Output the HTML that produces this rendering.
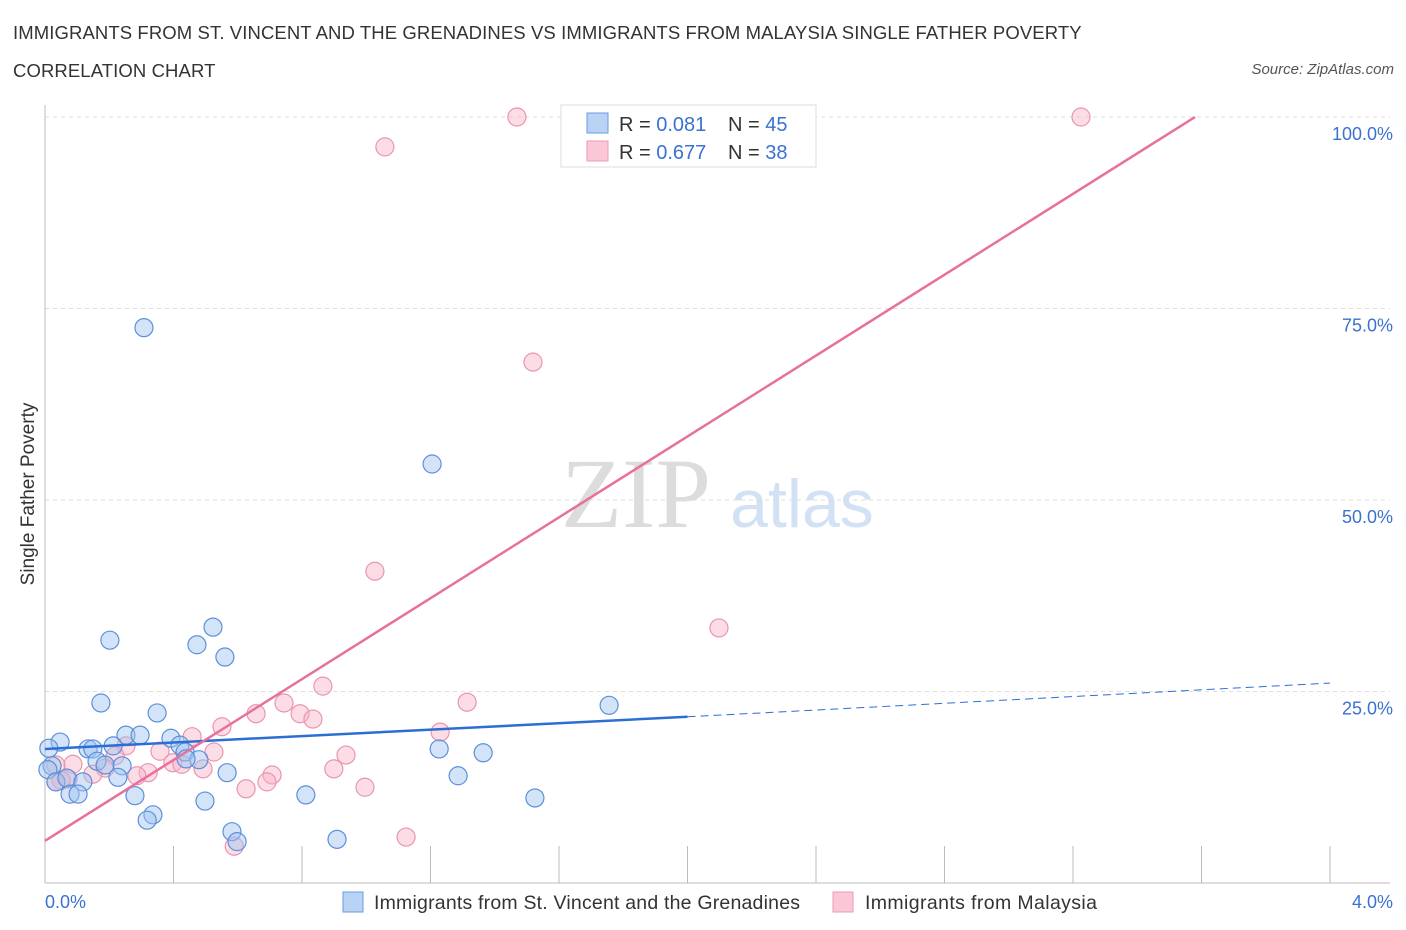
<!DOCTYPE html>
<html><head><meta charset="utf-8"><style>
body{margin:0;background:#fff;font-family:"Liberation Sans",sans-serif;}
#wrap{position:relative;width:1406px;height:930px;overflow:hidden;}
.t{position:absolute;white-space:nowrap;}
</style></head><body>
<div id="wrap">
<div class="t" style="left:13px;top:14px;font-size:18.5px;color:#333;line-height:38px;letter-spacing:0.1px;">IMMIGRANTS FROM ST. VINCENT AND THE GRENADINES VS IMMIGRANTS FROM MALAYSIA SINGLE FATHER POVERTY<br>CORRELATION CHART</div>
<div class="t" style="right:12px;top:61px;font-size:15px;color:#555;font-style:italic;">Source: ZipAtlas.com</div>
<svg id="svg" width="1406" height="930" style="position:absolute;left:0;top:0"></svg>
</div>
<script>
const blueX=[.308,1.205,.202,.523,.473,.560,.174,1.756,.349,.047,.252,.296,.392,.420,.134,.149,.212,.436,.012,1.227,1.364,.022,.162,.187,.240,.479,.439,.009,.227,.567,1.286,.034,.068,.118,.078,.103,.280,.812,1.525,.498,.336,.318,.582,.598,.909];
const blueY=[72.5,54.7,31.7,33.4,31.1,29.5,23.5,23.2,22.2,18.4,19.3,19.3,18.9,18.0,17.5,17.5,17.9,17.1,17.6,17.5,17.0,15.3,15.9,15.4,15.3,16.1,16.2,14.8,13.8,14.4,14.0,13.2,13.7,13.2,11.6,11.6,11.4,11.5,11.1,10.7,8.9,8.2,6.7,5.4,5.7];
const pinkX=[1.469,3.225,1.058,1.519,1.027,2.098,.865,1.314,.744,.657,.794,.834,.551,1.230,.458,.252,.358,.526,.218,.937,.398,.426,.087,.034,.899,.187,.492,.321,.707,.286,.149,.072,.050,.691,.034,.996,.626,1.124,.589];
const pinkY=[100,100,96.1,68.0,40.7,33.3,25.7,23.6,23.5,22.1,22.1,21.4,20.4,19.7,19.1,17.9,17.2,17.1,16.6,16.7,15.7,15.5,15.5,15.4,14.9,15.0,14.9,14.4,14.1,14.0,14.2,13.6,13.4,13.2,13.2,12.5,12.3,6.0,4.8];
const yTicks=[25,50,75,100];
const yTickLabels=["25.0%","50.0%","75.0%","100.0%"];
const xTickLabels=["0.0%","4.0%"];
const blueTrend=[17.5,21.7,26.1];
const pinkTrend=[5.5,100];
const pinkEndX=3.58;

const X0=45,X1=1330,Y0=883,Y1=117;
const sx=v=>X0+(X1-X0)*v/4;
const sy=v=>Y0-(Y0-Y1)*v/100;
const svg=document.getElementById('svg');
const NS='http://www.w3.org/2000/svg';
function mk(tag,attrs,parent){const e=document.createElementNS(NS,tag);for(const k in attrs)e.setAttribute(k,attrs[k]);(parent||svg).appendChild(e);return e;}

let w1=mk('text',{x:636,y:527,'font-size':100,'font-family':'Liberation Serif,serif',fill:'#dcdcdc','text-anchor':'middle'});w1.textContent='ZIP';


let w2=mk('text',{x:802,y:527,'font-size':68,'font-family':'Liberation Sans,sans-serif',fill:'#d2e1f4','text-anchor':'middle'});w2.textContent='atlas';



yTicks.forEach((t,i)=>{
  const g=mk('line',{x1:X0,x2:1390,y1:sy(t),y2:sy(t),stroke:'#ddd','stroke-dasharray':'4,4'});
  
  
  const tx=mk('text',{x:1393,y:sy(t)+23,'font-size':18,fill:'#3a72d0','text-anchor':'end'});tx.textContent=yTickLabels[i];
  
  
});
const ya=mk('line',{x1:X0,x2:X0,y1:105,y2:Y0,stroke:'#bbb'});


const xa=mk('line',{x1:X0,x2:X1+60,y1:Y0,y2:Y0,stroke:'#bbb'});


for(let i=1;i<=10;i++){const tk=mk('line',{x1:sx(i*0.4),x2:sx(i*0.4),y1:Y0-37,y2:Y0,stroke:'#bbb'});
  
  }
const xl0=mk('text',{x:45,y:908,'font-size':18,fill:'#3a72d0'});xl0.textContent=xTickLabels[0];


const xl1=mk('text',{x:1393,y:908,'font-size':18,fill:'#3a72d0','text-anchor':'end'});xl1.textContent=xTickLabels[1];


const yt=mk('text',{x:34,y:494,'font-size':19,fill:'#333','text-anchor':'middle',transform:'rotate(-90 34 494)'});yt.textContent='Single Father Poverty';



pinkX.forEach((x,i)=>{const c=mk('circle',{cx:sx(x),cy:sy(pinkY[i]),r:9,fill:'rgba(248,180,200,0.45)',stroke:'#e995b0','stroke-width':1.2});
  
  });
blueX.forEach((x,i)=>{const c=mk('circle',{cx:sx(x),cy:sy(blueY[i]),r:9,fill:'rgba(160,196,240,0.45)',stroke:'#5b90da','stroke-width':1.2});
  
  });

const bt=mk('line',{x1:sx(0),y1:sy(blueTrend[0]),x2:sx(2),y2:sy(blueTrend[1]),stroke:'#2a6fd6','stroke-width':2.5});


const bd=mk('line',{x1:sx(2),y1:sy(blueTrend[1]),x2:sx(4),y2:sy(blueTrend[2]),stroke:'#2a6fd6','stroke-width':1,'stroke-dasharray':'8,5'});


const pt=mk('line',{x1:sx(0),y1:sy(pinkTrend[0]),x2:sx(pinkEndX),y2:sy(pinkTrend[1]),stroke:'#e8709a','stroke-width':2.5});



const lg=mk('g',{});


mk('rect',{x:561,y:105,width:255,height:62,fill:'#fff',stroke:'#ddd'},lg);
mk('rect',{x:587,y:113,width:21,height:20,fill:'#b9d3f5',stroke:'#6a9be0'},lg);
mk('rect',{x:587,y:141,width:21,height:20,fill:'#fbc7d6',stroke:'#ec9ab4'},lg);
[['0.081','45',131],['0.677','38',159]].forEach(r=>{
  const t=mk('text',{x:619,y:r[2],'font-size':20,fill:'#333'},lg);
  t.innerHTML='R = <tspan fill="#3a72d0">'+r[0]+'</tspan><tspan x="728">N = </tspan><tspan fill="#3a72d0">'+r[1]+'</tspan>';
});
const bl=mk('g',{});


mk('rect',{x:343,y:892,width:20,height:20,fill:'#b9d3f5',stroke:'#6a9be0'},bl);
let b1=mk('text',{x:374,y:909,'font-size':19.5,fill:'#333',textLength:426},bl);b1.textContent='Immigrants from St. Vincent and the Grenadines';
mk('rect',{x:833,y:892,width:20,height:20,fill:'#fbc7d6',stroke:'#ec9ab4'},bl);
let b2=mk('text',{x:865,y:909,'font-size':19.5,fill:'#333',textLength:232},bl);b2.textContent='Immigrants from Malaysia';
</script>
</body></html>
